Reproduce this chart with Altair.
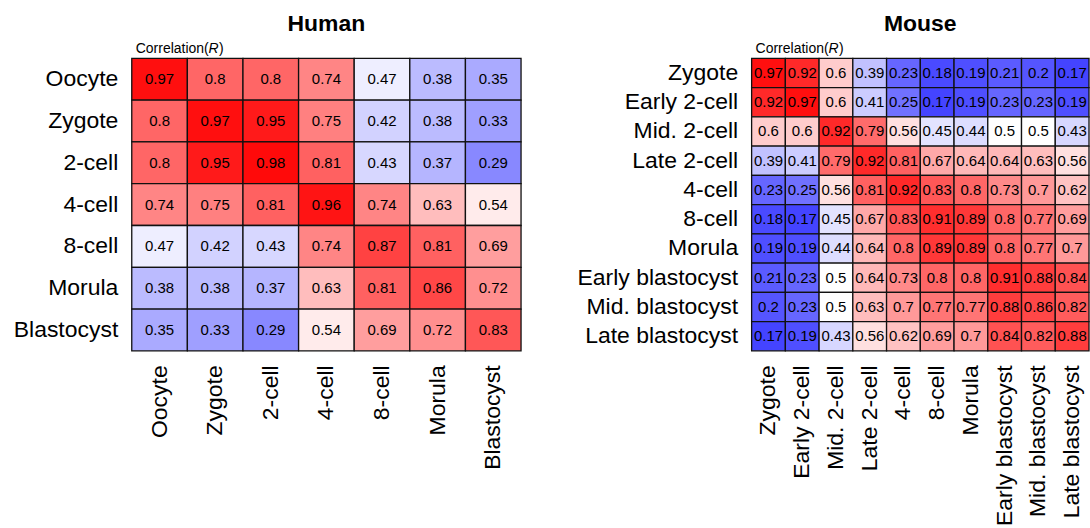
import altair as alt
import pandas as pd

FONT = "Liberation Sans"

human_stages = ["Oocyte", "Zygote", "2-cell", "4-cell", "8-cell", "Morula", "Blastocyst"]
human_values = [
    [0.97, 0.8, 0.8, 0.74, 0.47, 0.38, 0.35],
    [0.8, 0.97, 0.95, 0.75, 0.42, 0.38, 0.33],
    [0.8, 0.95, 0.98, 0.81, 0.43, 0.37, 0.29],
    [0.74, 0.75, 0.81, 0.96, 0.74, 0.63, 0.54],
    [0.47, 0.42, 0.43, 0.74, 0.87, 0.81, 0.69],
    [0.38, 0.38, 0.37, 0.63, 0.81, 0.86, 0.72],
    [0.35, 0.33, 0.29, 0.54, 0.69, 0.72, 0.83],
]

mouse_stages = ["Zygote", "Early 2-cell", "Mid. 2-cell", "Late 2-cell", "4-cell", "8-cell",
                "Morula", "Early blastocyst", "Mid. blastocyst", "Late blastocyst"]
mouse_values = [
    [0.97, 0.92, 0.6, 0.39, 0.23, 0.18, 0.19, 0.21, 0.2, 0.17],
    [0.92, 0.97, 0.6, 0.41, 0.25, 0.17, 0.19, 0.23, 0.23, 0.19],
    [0.6, 0.6, 0.92, 0.79, 0.56, 0.45, 0.44, 0.5, 0.5, 0.43],
    [0.39, 0.41, 0.79, 0.92, 0.81, 0.67, 0.64, 0.64, 0.63, 0.56],
    [0.23, 0.25, 0.56, 0.81, 0.92, 0.83, 0.8, 0.73, 0.7, 0.62],
    [0.18, 0.17, 0.45, 0.67, 0.83, 0.91, 0.89, 0.8, 0.77, 0.69],
    [0.19, 0.19, 0.44, 0.64, 0.8, 0.89, 0.89, 0.8, 0.77, 0.7],
    [0.21, 0.23, 0.5, 0.64, 0.73, 0.8, 0.8, 0.91, 0.88, 0.84],
    [0.2, 0.23, 0.5, 0.63, 0.7, 0.77, 0.77, 0.88, 0.86, 0.82],
    [0.17, 0.19, 0.43, 0.56, 0.62, 0.69, 0.7, 0.84, 0.82, 0.88],
]

color_scale = alt.Scale(domain=[0.05, 0.5, 1.0], range=["#0000ff", "#ffffff", "#ff0000"],
                        interpolate="rgb")


def to_df(stages, values):
    rows = []
    for i, r in enumerate(stages):
        for j, c in enumerate(stages):
            rows.append({"row": r, "col": c, "value": values[i][j]})
    return pd.DataFrame(rows)


def heatmap(stages, values, title, width, height):
    df = to_df(stages, values)
    base = alt.Chart(df).encode(
        x=alt.X("col:N", sort=stages, title=None,
                scale=alt.Scale(paddingInner=0, paddingOuter=0),
                axis=alt.Axis(orient="bottom", labelAngle=-90, labelAlign="right",
                              labelBaseline="middle")),
        y=alt.Y("row:N", sort=stages, title=None,
                scale=alt.Scale(paddingInner=0, paddingOuter=0)),
    )
    rect = base.mark_rect(stroke="#111111", strokeWidth=1.3).encode(
        color=alt.Color("value:Q", scale=color_scale, legend=None)
    )
    text = base.mark_text(font=FONT, fontSize=15, color="black").encode(
        text=alt.Text("value:Q", format=".2~f")
    )
    lab1 = alt.Chart(pd.DataFrame({"t": ["Correlation("]})).mark_text(
        font=FONT, fontSize=14, align="left", baseline="alphabetic", color="black"
    ).encode(x=alt.value(4), y=alt.value(-5), text="t:N")
    lab2 = alt.Chart(pd.DataFrame({"t": ["R"]})).mark_text(
        font=FONT, fontSize=14, fontStyle="italic", align="left", baseline="alphabetic",
        color="black"
    ).encode(x=alt.value(77), y=alt.value(-5), text="t:N")
    lab3 = alt.Chart(pd.DataFrame({"t": [")"]})).mark_text(
        font=FONT, fontSize=14, align="left", baseline="alphabetic", color="black"
    ).encode(x=alt.value(87.5), y=alt.value(-5), text="t:N")
    return alt.layer(rect, text, lab1, lab2, lab3).properties(
        width=width, height=height,
        title=alt.TitleParams(title, font=FONT, fontSize=23, fontWeight="bold",
                              anchor="middle", frame="group", offset=6, color="black"),
    )


human = heatmap(human_stages, human_values, "Human", 390, 293)
mouse = heatmap(mouse_stages, mouse_values, "Mouse", 338, 293)

chart = alt.hconcat(human, mouse, spacing=54).properties(
    padding={"left": 13, "top": 13, "right": 0, "bottom": 0}
).configure_view(stroke=None).configure_axis(
    domain=False, ticks=False, labelPadding=14, labelFontSize=23, labelFont=FONT,
    labelColor="black", labelLimit=400
)

chart.save("out.html", embed_options={"renderer": "svg", "actions": False})
